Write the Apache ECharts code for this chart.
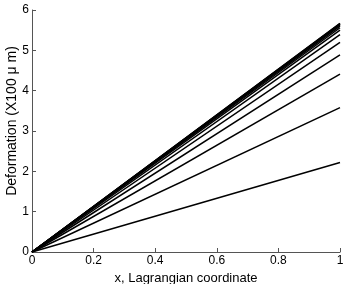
<!DOCTYPE html>
<html>
<head>
<meta charset="utf-8">
<script src="https://cdn.jsdelivr.net/npm/echarts@6/dist/echarts.min.js"></script>
<style>html,body{margin:0;padding:0;background:#fff}#c{width:346px;height:284px}</style>
</head>
<body>
<div id="c"></div>
<script>
var xPoints = [0, 1];
var startValues = [0, 0, 0, 0, 0, 0, 0, 0, 0, 0, 0, 0, 0];
var endValues = [2.22, 3.58, 4.41, 4.89, 5.2, 5.39, 5.5, 5.56, 5.6, 5.63, 5.65, 5.66, 5.67];
var xTicks = [0, 0.2, 0.4, 0.6, 0.8, 1];
var yTicks = [0, 1, 2, 3, 4, 5, 6];
var yTitle = 'Deformation (X100 \u03bc m)';

var chart = echarts.init(document.getElementById('c'), null, {renderer: 'canvas'});
var series = endValues.map(function (v, i) {
  return {
    type: 'line',
    data: [[xPoints[0], startValues[i]], [xPoints[1], v]],
    symbol: 'none',
    lineStyle: {color: '#000', width: 1.5},
    silent: true,
    animation: false
  };
});
var font = 'Liberation Sans, Arial, Helvetica, sans-serif';
chart.setOption({
  animation: false,
  grid: {left: 32, right: 6, top: 10, bottom: 32, containLabel: false, outerBoundsMode: 'none'},
  graphic: [{
    type: 'text', x: 12, y: 121, rotation: Math.PI / 2, silent: true,
    style: {text: yTitle, fill: '#000', font: '14px ' + font, align: 'center', verticalAlign: 'middle'}
  }],
  xAxis: {
    type: 'value', min: 0, max: 1, interval: 0.2,
    name: 'x, Lagrangian coordinate', nameLocation: 'middle', nameGap: 13,
    nameTextStyle: {color: '#000', fontSize: 13, fontFamily: font},
    axisLine: {show: true, lineStyle: {color: '#555', width: 1}},
    axisTick: {show: true, inside: true, length: 4, lineStyle: {color: '#555'}},
    axisLabel: {color: '#000', fontSize: 12, fontFamily: font, margin: 3,
      formatter: function (v) { return xTicks.indexOf(v) >= 0 ? String(v) : ''; }},
    splitLine: {show: false}
  },
  yAxis: {
    type: 'value', min: 0, max: 6, interval: 1,
    axisLine: {show: true, lineStyle: {color: '#555', width: 1}},
    axisTick: {show: true, inside: true, length: 4, lineStyle: {color: '#555'}},
    axisLabel: {color: '#000', fontSize: 12, fontFamily: font, margin: 3,
      formatter: function (v) { return yTicks.indexOf(v) >= 0 ? String(v) : ''; }},
    splitLine: {show: false}
  },
  series: series
});
</script>
</body>
</html>
